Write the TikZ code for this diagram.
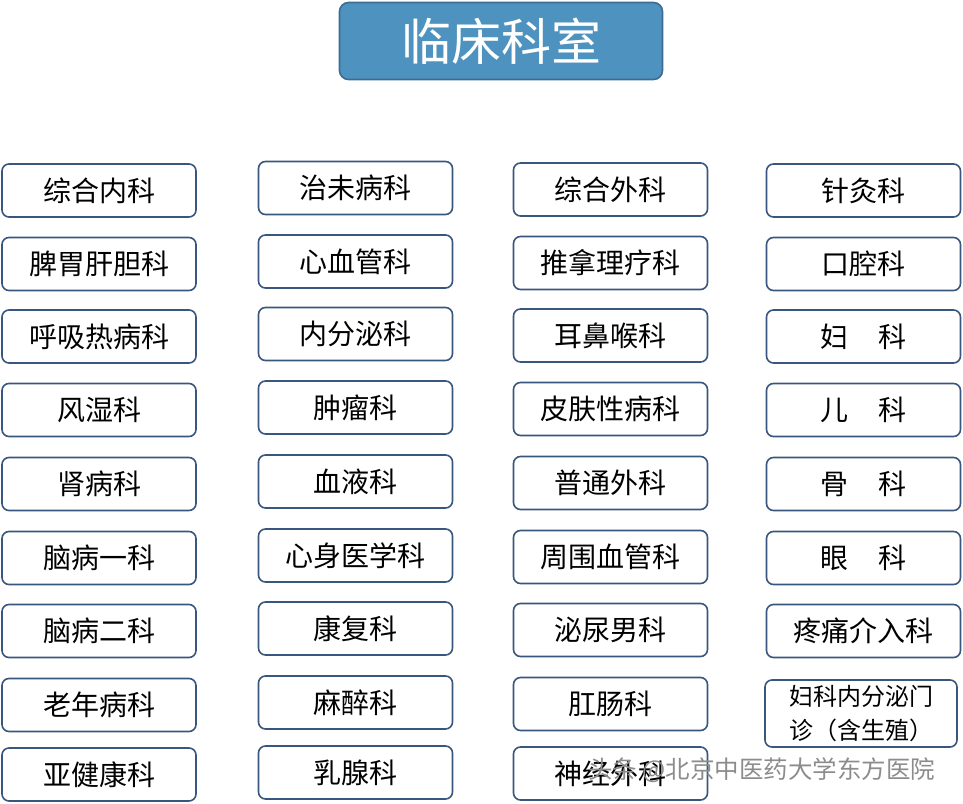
\documentclass[tikz,border=0pt]{standalone}
\usepackage{fontspec}
\setmainfont{Noto Sans CJK SC}
\usetikzlibrary{positioning}
\definecolor{deptline}{RGB}{56,86,126}
\definecolor{headfill}{RGB}{78,147,192}
\definecolor{headline}{RGB}{60,108,146}
\tikzset{
  dept/.style={draw=deptline, line width=1.6pt, rounded corners=7pt,
    minimum width=194pt, minimum height=53pt, inner sep=0pt, align=center,
    font=\fontsize{28}{32}\selectfont},
  head/.style={draw=headline, fill=headfill, line width=1.6pt, rounded corners=9pt,
    minimum width=323pt, minimum height=77pt, text=white,
    font=\fontsize{50}{54}\selectfont}
}
\newcommand{\gap}{\hspace{1.1em}}

\begin{document}
\begin{tikzpicture}[x=1pt,y=-1pt]
\useasboundingbox (0,0) rectangle (963,803);
\node[head] (top) at (501,41) {临床科室};
\foreach \t/\y [count=\i] in {综合内科/190.5, 脾胃肝胆科/264, 呼吸热病科/336.5, 风湿科/410,
    肾病科/484, 脑病一科/558, 脑病二科/631, 老年病科/705, 亚健康科/774.5}
  \node[dept] (a-\i) at (99,\y) {\t};
\foreach \t/\y [count=\i] in {治未病科/188, 心血管科/261.5, 内分泌科/334, 肿瘤科/407.5,
    血液科/481.5, 心身医学科/555.5, 康复科/628.5, 麻醉科/702.5, 乳腺科/772.5}
  \node[dept] (b-\i) at (355.5,\y) {\t};
\foreach \t/\y [count=\i] in {综合外科/189.5, 推拿理疗科/263, 耳鼻喉科/335.5, 皮肤性病科/409,
    普通外科/483, 周围血管科/557, 泌尿男科/630, 肛肠科/704, 神经外科/773.5}
  \node[dept] (c-\i) at (610.5,\y) {\t};
\foreach \t/\y [count=\i] in {针灸科/190.5, 口腔科/264, 妇\gap 科/336.5, 儿\gap 科/410,
    骨\gap 科/484, 眼\gap 科/558, 疼痛介入科/631}
  \node[dept] (d-\i) at (863.5,\y) {\t};
\node[dept, minimum width=192pt, minimum height=67pt, align=left,
  font=\fontsize{24}{34}\selectfont] (d-8) at (861,713.5) {妇科内分泌门\\诊（含生殖）};
\node[text=black!45, font=\fontsize{24.5}{26}\selectfont, anchor=west, inner sep=0pt]
  (mark) at (588,770) {头条 @北京中医药大学东方医院};
\end{tikzpicture}
\end{document}
